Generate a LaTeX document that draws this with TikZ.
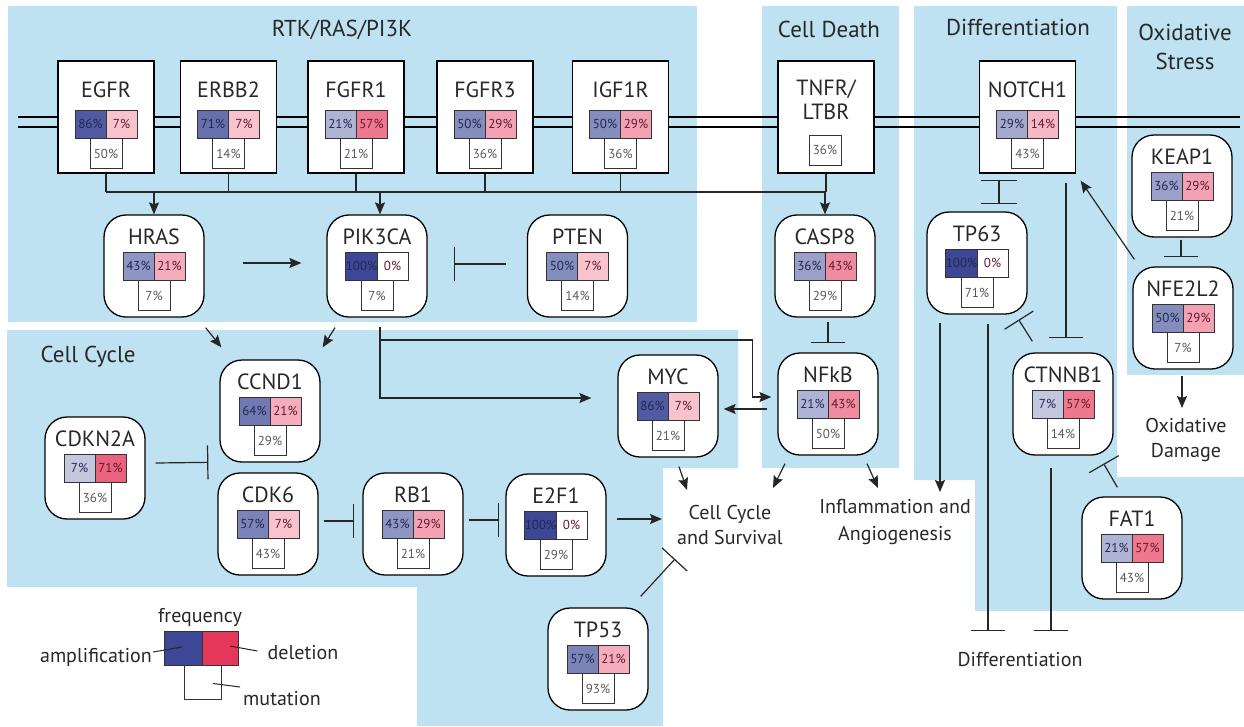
\documentclass[tikz,border=0pt]{standalone}
\usepackage{fontspec}
\setmainfont{PT Sans}
\usetikzlibrary{arrows.meta,calc}
\definecolor{reg}{RGB}{190,226,242}
\definecolor{ampc}{RGB}{60,72,150}
\definecolor{delc}{RGB}{228,55,90}
\definecolor{txt}{RGB}{40,40,40}
\tikzset{
 gbox/.style={draw=black, line width=1.3pt, fill=white, rounded corners=22pt, minimum width=100pt, minimum height=102pt, inner sep=0pt},
 rbox/.style={draw=black, line width=1.3pt, fill=white, minimum width=96pt, minimum height=112pt, inner sep=0pt},
 gtitle/.style={font=\fontsize{22}{24}\selectfont, text=txt, inner sep=0pt},
 barc/.style={draw=black!80, line width=1pt, minimum width=31pt, minimum height=28pt, inner sep=0pt, font=\fontsize{13}{14}\selectfont},
 mutc/.style={draw=black!80, line width=1pt, fill=white, minimum width=32pt, minimum height=30pt, inner sep=0pt, font=\fontsize{13}{14}\selectfont, text=black!65},
 conn/.style={line width=1.2pt, draw=black!85},
 arr/.style={conn, -{Stealth[length=12pt,width=10pt,inset=2pt]}},
 inh/.style={conn, -{Bar[width=34pt]}},
 lab/.style={font=\fontsize{20}{24}\selectfont, text=txt, align=center, inner sep=0pt},
 sect/.style={font=\fontsize{23}{27}\selectfont, text=txt, align=center, inner sep=0pt},
}
\newcommand{\pctcol}[2]{\ifnum#1=0 \def#2{0}\else\pgfmathsetmacro#2{25+0.75*#1}\fi}
\newcommand{\gbars}[6]{%
 \pctcol{#4}{\ba}\pctcol{#5}{\bd}%
 \node[barc, fill=ampc!\ba!white, text=ampc!55!black] (#1a) at (#2-15.5,#3) {#4\%};
 \node[barc, fill=delc!\bd!white, text=delc!45!black] (#1d) at (#2+15.5,#3) {#5\%};
 \node[mutc, anchor=north] (#1m) at (#2,#3+14) {#6\%};
}
\newcommand{\gene}[7]{%
 \node[gbox] (#1) at (#2,#3+51) {};
 \node[gtitle] (#1t) at (#2,#3+22) {#4};
 \gbars{#1}{#2}{#3+51}{#5}{#6}{#7}
}
\newcommand{\rec}[7]{%
 \node[rbox] (#1) at (#2,#3+56) {};
 \node[gtitle] (#1t) at (#2,#3+29) {#4};
 \gbars{#1}{#2}{#3+63}{#5}{#6}{#7}
}
\begin{document}
\begin{tikzpicture}[x=1pt,y=-1pt]
\useasboundingbox (0,0) rectangle (1244,726);
\fill[white] (0,0) rectangle (1244,726);
% regions
\fill[reg] (8,6) rectangle (697,322);
\fill[reg] (7,330) -- (738,330) -- (738,468) -- (663,468) -- (663,726) -- (417,726) -- (417,587) -- (7,587) -- cycle;
\fill[reg] (762,6) rectangle (899,468);
\fill[reg] (914,6) -- (1117,6) -- (1117,477) -- (1244,477) -- (1244,611) -- (975,611) -- (975,480) -- (914,480) -- cycle;
\fill[reg] (1127,6) rectangle (1244,375);
% section titles
\node[sect] (t1) at (342,30) {RTK/RAS/PI3K};
\node[sect] (t2) at (829,29) {Cell Death};
\node[sect] (t3) at (1018,27) {Differentiation};
\node[sect, font=\fontsize{23}{29}\selectfont] (t4) at (1185,47) {Oxidative\\Stress};
\node[sect] (t5) at (88,357) {Cell Cycle};
% membrane
\draw[line width=1.3pt] (18,117) -- (1240,117);
\draw[line width=1.3pt] (18,127) -- (1240,127);
% receptors
\rec{egfr}{106}{61}{EGFR}{86}{7}{50}
\rec{erbb2}{228.5}{61}{ERBB2}{71}{7}{14}
\rec{fgfr1}{356}{61}{FGFR1}{21}{57}{21}
\rec{fgfr3}{485}{61}{FGFR3}{50}{29}{36}
\rec{igf1r}{620.5}{61}{IGF1R}{50}{29}{36}
\rec{notch1}{1027.5}{61}{NOTCH1}{29}{14}{43}
\node[rbox] (tnfr) at (826,117) {};
\node[gtitle, align=center, font=\fontsize{22}{24}\selectfont] (tnfrt) at (826,100) {TNFR/\\LTBR};
\node[mutc] (tnfrm) at (825,150) {36\%};
% genes
\gene{hras}{154}{215}{HRAS}{43}{21}{7}
\gene{pik3ca}{377}{215}{PIK3CA}{100}{0}{7}
\gene{pten}{577.5}{215}{PTEN}{50}{7}{14}
\gene{casp8}{825}{215}{CASP8}{36}{43}{29}
\gene{nfkb}{828}{353}{NFkB}{21}{43}{50}
\gene{myc}{668}{355}{MYC}{86}{7}{21}
\gene{ccnd1}{270}{360}{CCND1}{64}{21}{29}
\gene{cdkn2a}{95}{417}{CDKN2A}{7}{71}{36}
\gene{cdk6}{268}{473}{CDK6}{57}{7}{43}
\gene{rb1}{413}{473}{RB1}{43}{29}{21}
\gene{e2f1}{556}{474}{E2F1}{100}{0}{29}
\gene{tp53}{598}{608}{TP53}{57}{21}{93}
\gene{tp63}{977}{212}{TP63}{100}{0}{71}
\gene{keap1}{1182}{135}{KEAP1}{36}{29}{21}
\gene{nfe2l2}{1183}{267}{NFE2L2}{50}{29}{7}
\gene{ctnnb1}{1063}{353}{CTNNB1}{7}{57}{14}
\gene{fat1}{1132}{497}{FAT1}{21}{57}{43}
% outcome labels
\node[lab, font=\fontsize{20}{25}\selectfont] (cc) at (730,525) {Cell Cycle\\and Survival};
\node[lab, font=\fontsize{20}{27}\selectfont] (infl) at (895,522) {Inflammation and\\Angiogenesis};
\node[lab, font=\fontsize{20}{25}\selectfont] (oxd) at (1186,440) {Oxidative\\Damage};
\node[lab] (diff) at (1020,660) {Differentiation};
% receptor bus
\coordinate (busL) at (106,192);
\coordinate (busR) at (826,192);
\draw[conn] (busL) -- (busR);
\foreach \n in {egfr,erbb2,fgfr1,fgfr3,igf1r,tnfr} \draw[conn] (\n.south) -- (\n.south |- busL);
\coordinate (pkt) at ([shift={(3,0)}]pik3ca.north);
\draw[arr] (hras.north |- busL) -- (hras.north);
\draw[arr] (pkt |- busL) -- (pkt);
\draw[arr] (casp8.north |- busL) -- (casp8.north);
% RTK module
\draw[arr] ([shift={(38,-3)}]hras.east) -- ([shift={(-25,-3)}]pik3ca.west);
\draw[inh] ([shift={(-21,-2)}]pten.west) -- ([shift={(26,-2)}]pik3ca.east);
\draw[arr] ([shift={(1,10)}]hras.south east) -- ([shift={(2,-12)}]ccnd1.north west);
\draw[arr] ([shift={(-42,10)}]pik3ca.south) -- ([shift={(2,-12)}]ccnd1.north east);
\coordinate (pkd) at ([shift={(3,9)}]pik3ca.south);
\draw[arr] (pkd) |- ([shift={(-26,-8)}]myc.west);
\draw[arr] (pkd) |- ([shift={(-25,-64)}]nfkb.west) |- ([shift={(-6,-7)}]nfkb.west);
% cell death
\draw[inh] ([shift={(3,4)}]casp8.south) -- ([shift={(0,-9)}]nfkb.north);
\draw[arr] ([shift={(-10,5)}]nfkb.west) -- ([shift={(5,3)}]myc.east);
\draw[arr] ([shift={(11,9)}]myc.south) -- ([shift={(-43,-35)}]cc.center);
\draw[arr] ([shift={(-43,8)}]nfkb.south) -- ([shift={(43,-37)}]cc.center);
\draw[arr] ([shift={(39,8)}]nfkb.south) -- ([shift={(-17,-34)}]infl.center);
% cell cycle
\draw[inh] ([shift={(10,-5)}]cdkn2a.east) -- ([shift={(-9,-10)}]cdk6.north west);
\draw[inh] ([shift={(5,-3)}]cdk6.east) -- ([shift={(-8,-3)}]rb1.west);
\draw[inh] ([shift={(5,-4)}]rb1.east) -- ([shift={(-6,-5)}]e2f1.west);
\draw[arr] ([shift={(10,-6)}]e2f1.east) -- ([shift={(-68,-6)}]cc.center);
\draw[inh] ([shift={(-8,-11)}]tp53.north east) -- ([shift={(-55,34)}]cc.center);
% differentiation
\draw[conn, {Bar[width=36pt]}-{Bar[width=36pt]}] ([shift={(-28.5,6)}]notch1.south) -- ([shift={(22,-7)}]tp63.north);
\draw[inh] ([shift={(38.5,9)}]notch1.south) -- ([shift={(3,-14)}]ctnnb1.north);
\draw[arr] ([shift={(2,-7)}]nfe2l2.north west) -- ([shift={(4.5,7)}]notch1.south east);
\draw[inh] ([shift={(-1,2)}]keap1.south) -- ([shift={(-2,-9)}]nfe2l2.north);
\draw[inh] ([shift={(20,-11)}]ctnnb1.north west) -- ([shift={(-9,5)}]tp63.south east);
\draw[inh] ([shift={(36,-9)}]fat1.north west) -- ([shift={(-10,8)}]ctnnb1.south east);
\draw[arr] ([shift={(-1,6)}]nfe2l2.south) -- ([shift={(-4,-32)}]oxd.center);
\draw[arr] ([shift={(-37,8)}]tp63.south) -- ([shift={(45,-30)}]infl.center);
\draw[inh] ([shift={(11,9)}]tp63.south) -- ([shift={(-32,-29)}]diff.center);
\draw[inh] ([shift={(-12,12)}]ctnnb1.south) -- ([shift={(31,-29)}]diff.center);
% legend
\node[lab] (freq) at (200,617) {frequency};
\node[barc, fill=ampc, minimum width=38pt, minimum height=34pt] (la) at (183,648) {};
\node[barc, fill=delc, minimum width=36pt, minimum height=34pt] (ld) at (220,648) {};
\node[mutc, minimum width=37pt, minimum height=34pt, anchor=north] (lm) at (202.5,665) {};
\node[lab, anchor=east] (lamp) at (152,657) {amplification};
\node[lab] (ldel) at (303,653) {deletion};
\node[lab] (lmut) at (282,699) {mutation};
\draw[conn, line width=1pt] ([shift={(1,-5)}]lamp.east) -- ([shift={(-1,-1)}]la.center);
\draw[conn, line width=1pt] ([shift={(10,-2)}]ld.center) -- ([shift={(-10,-2)}]ldel.west);
\draw[conn, line width=1pt] ([shift={(10.5,1)}]lm.center) -- ([shift={(-3,-12)}]lmut.west);
\end{tikzpicture}
\end{document}
